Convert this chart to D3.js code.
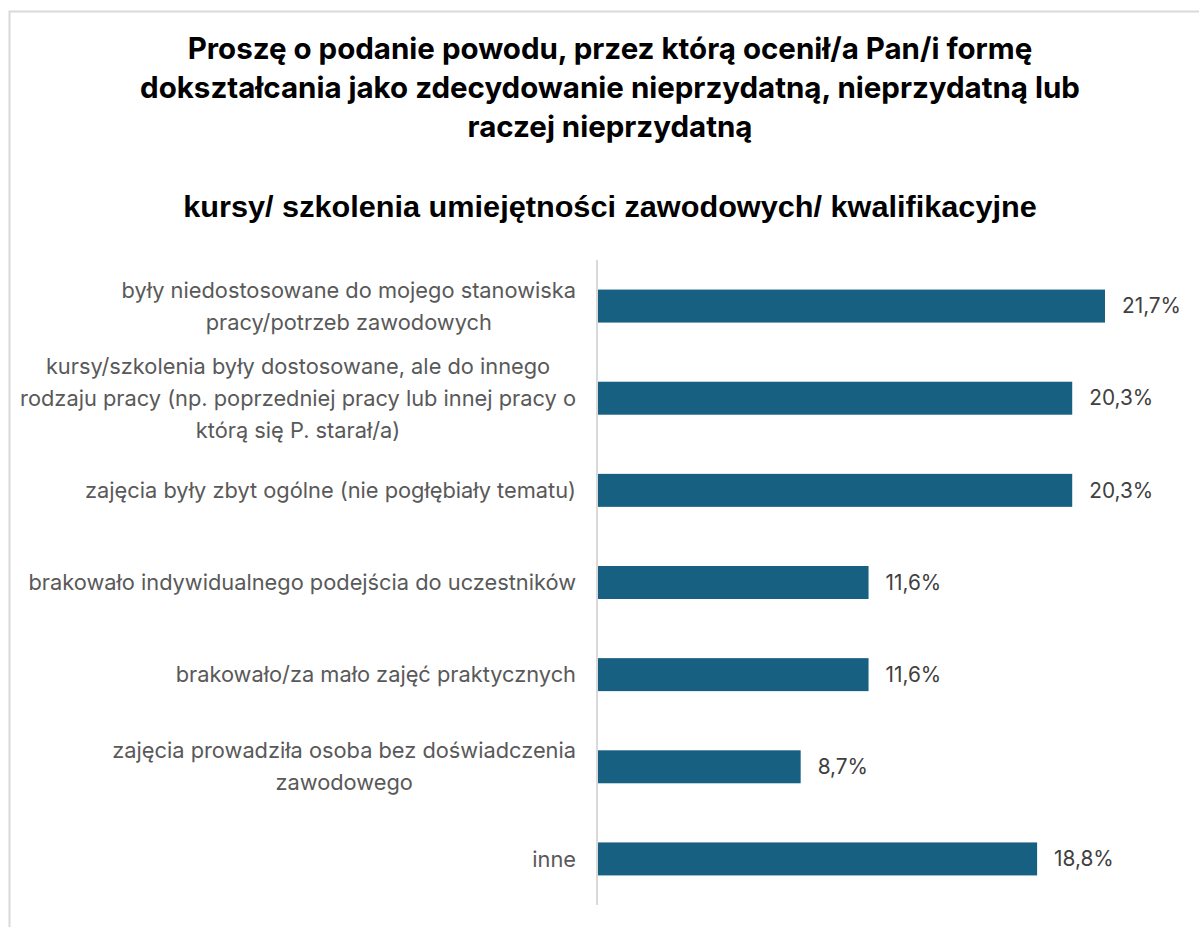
<!DOCTYPE html>
<html lang="pl">
<head>
<meta charset="utf-8">
<script src="https://cdn.jsdelivr.net/npm/d3@7"></script>
<style>
  html, body { margin: 0; padding: 0; background: #ffffff; }
  svg { display: block; }
</style>
</head>
<body>
<div id="chart"></div>
<script>
// Category labels (line breaks mark how each label wraps)
const categories = [
  "były niedostosowane do mojego stanowiska\npracy/potrzeb zawodowych",
  "kursy/szkolenia były dostosowane, ale do innego\nrodzaju pracy (np. poprzedniej pracy lub innej pracy o\nktórą się P. starał/a)",
  "zajęcia były zbyt ogólne (nie pogłębiały tematu)",
  "brakowało indywidualnego podejścia do uczestników",
  "brakowało/za mało zajęć praktycznych",
  "zajęcia prowadziła osoba bez doświadczenia\nzawodowego",
  "inne"
];
// Share of respondents, in percent
const values = [21.7, 20.3, 20.3, 11.6, 11.6, 8.7, 18.8];

const titleLines = [
  "Proszę o podanie powodu, przez którą ocenił/a Pan/i formę",
  "dokształcania jako zdecydowanie nieprzydatną, nieprzydatną lub",
  "raczej nieprzydatną"
];
const subtitle = "kursy/ szkolenia umiejętności zawodowych/ kwalifikacyjne";

const W = 1199, H = 927;
const svg = d3.select("#chart").append("svg")
  .attr("width", W).attr("height", H);

// Scale a text selection's font size so that its widest line spans `target` px
function fitWidth(sel, target) {
  const base = +sel.attr("font-size") || 20;
  const w = d3.max(sel.nodes(), n => n.getComputedTextLength());
  sel.attr("font-size", base * target / w);
}

// Chart frame
svg.append("rect")
  .attr("x", 9.5).attr("y", 11.5)
  .attr("width", 1200).attr("height", 930)
  .attr("fill", "#ffffff")
  .attr("stroke", "#d9d9d9").attr("stroke-width", 2);

// Title
const titleFont = "Inter, 'Noto Sans', sans-serif";
const titleG = svg.append("g")
  .attr("font-family", titleFont)
  .attr("font-weight", "bold")
  .attr("fill", "#000000")
  .attr("text-anchor", "middle");
const titleText = titleG.selectAll("text.t").data(titleLines).join("text")
  .attr("class", "t")
  .attr("x", 610)
  .attr("y", (d, i) => 59 + i * 39)
  .attr("font-size", 26)
  .text(d => d);
fitWidth(titleText, 940);

// Subtitle in a condensed face: tall glyphs squeezed horizontally
const subText = titleG.append("text")
  .attr("x", 0).attr("y", 0)
  .attr("font-family", "'Liberation Sans', Arial, sans-serif")
  .attr("font-size", 29)
  .text(subtitle);
const subW = subText.node().getComputedTextLength();
subText.attr("transform", `translate(610,217) scale(${854 / subW},1)`);

// Plot area
const x0 = 597, plotTop = 260, plotBottom = 905;
const x = d3.scaleLinear().domain([0, 21.7]).range([x0, 1105]);
const y = d3.scaleBand()
  .domain(d3.range(categories.length))
  .range([plotTop, plotBottom])
  .paddingInner(0.642)
  .paddingOuter(0.321);

// Bars
svg.append("g").selectAll("rect").data(values).join("rect")
  .attr("x", x(0))
  .attr("y", (d, i) => y(i))
  .attr("width", d => x(d) - x(0))
  .attr("height", y.bandwidth())
  .attr("fill", "#176082");

// Category axis line
svg.append("line")
  .attr("x1", x0).attr("x2", x0)
  .attr("y1", plotTop).attr("y2", plotBottom)
  .attr("stroke", "#d9d9d9").attr("stroke-width", 2);

// Category labels: lines centred within a block whose right edge sits left of the axis
const labelFont = "Inter, 'Noto Sans', sans-serif";
const lineH = 32;
const labelG = svg.append("g")
  .attr("font-family", labelFont)
  .attr("font-size", 20)
  .attr("fill", "#595959");
const labelGroups = categories.map((c, i) => {
  const lines = c.split("\n");
  const cy = y(i) + y.bandwidth() / 2;
  const texts = labelG.append("g").selectAll("text").data(lines).join("text")
    .attr("y", (d, k) => cy + (k - (lines.length - 1) / 2) * lineH)
    .attr("dy", "0.35em")
    .attr("text-anchor", "middle")
    .text(d => d);
  return texts;
});
// One common size for all labels, set by the longest line
const probe = labelG.selectAll("text");
const longest = d3.max(probe.nodes(), n => n.getComputedTextLength());
const labelSize = 20 * 556 / longest;
probe.attr("font-size", labelSize);
labelGroups.forEach(texts => {
  const maxW = d3.max(texts.nodes(), n => n.getComputedTextLength());
  texts.attr("x", 576 - maxW / 2);
});

// Value labels
const valText = svg.append("g")
  .attr("font-family", labelFont)
  .attr("font-size", 20)
  .attr("fill", "#404040")
  .selectAll("text").data(values).join("text")
  .attr("x", d => x(d) + 17)
  .attr("y", (d, i) => y(i) + y.bandwidth() / 2)
  .attr("dy", "0.35em")
  .text(d => d3.format(".1f")(d).replace(".", ",") + "%");
fitWidth(valText, 64);
</script>
</body>
</html>
